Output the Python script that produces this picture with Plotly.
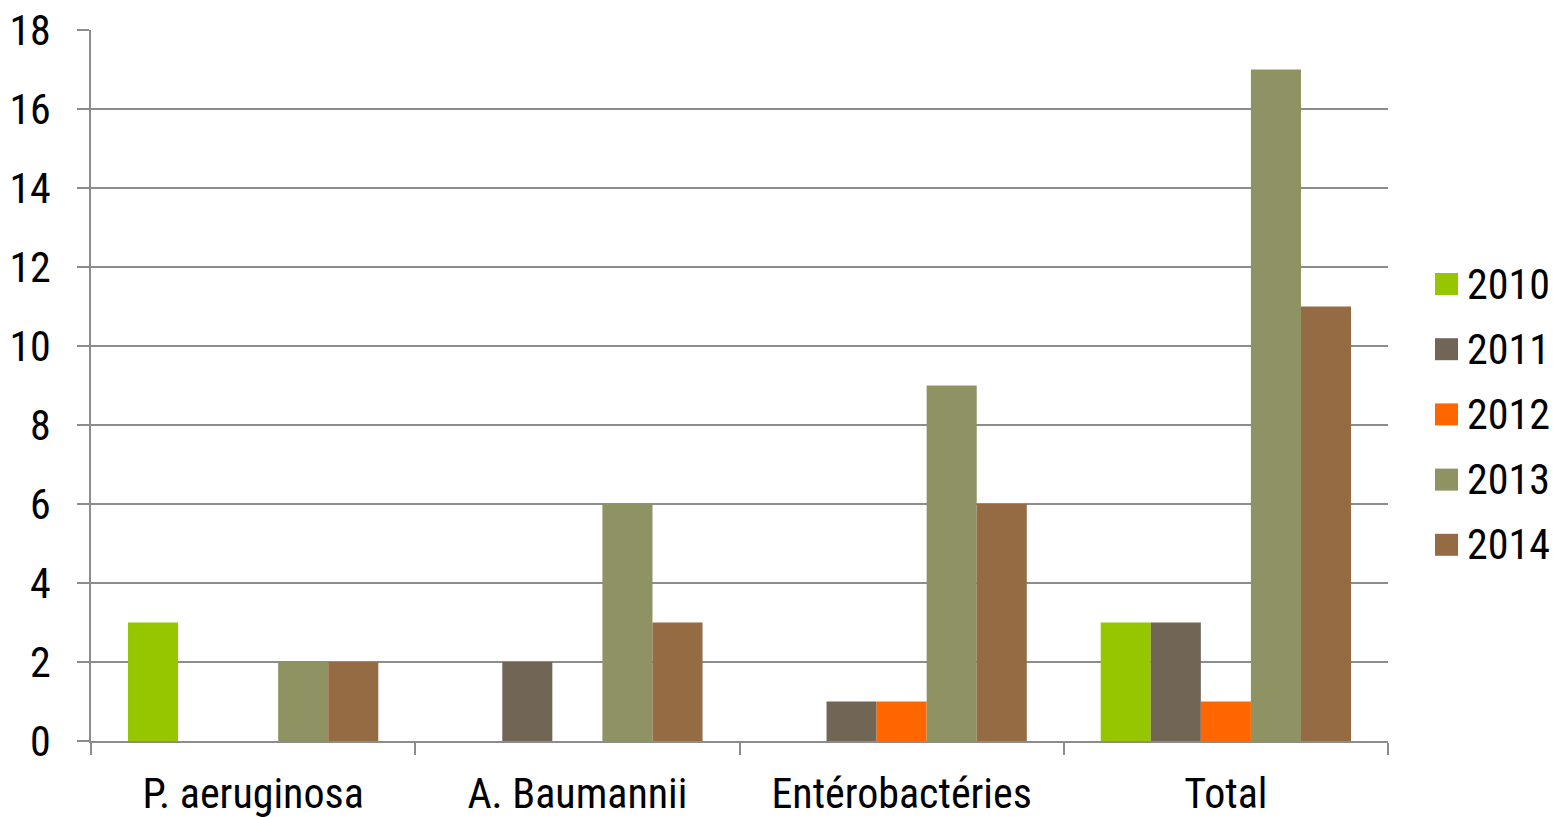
import plotly.graph_objects as go

categories = ["P. aeruginosa", "A. Baumannii", "Entérobactéries", "Total"]
years = ["2010", "2011", "2012", "2013", "2014"]
v2010 = [3, 0, 0, 3]
v2011 = [0, 2, 1, 3]
v2012 = [0, 0, 1, 1]
v2013 = [2, 6, 9, 17]
v2014 = [2, 3, 6, 11]
colors = ["#95C600", "#716656", "#FF6600", "#8F9262", "#956B43"]

series = [v2010, v2011, v2012, v2013, v2014]
FONT = "Liberation Sans Narrow, Arial Narrow, Roboto Condensed, Liberation Sans, Arial, sans-serif"
FS = 42

fig = go.Figure()
for name, vals, col in zip(years, series, colors):
    fig.add_trace(go.Bar(x=categories, y=vals, name=name,
                         marker=dict(color=col, line=dict(width=0)),
                         showlegend=False))

# legend drawn as paper-anchored swatches with labels
for i, (name, col) in enumerate(zip(years, colors)):
    yc = 1 - (284 - 30 + i * 65.2) / 711
    h = 22 / 711
    fig.add_shape(type="rect", xref="paper", yref="paper",
                  x0=(1435 - 91) / 1297, x1=(1458 - 91) / 1297,
                  y0=yc - h / 2, y1=yc + h / 2,
                  fillcolor=col, line=dict(width=0))
    fig.add_annotation(xref="paper", yref="paper", x=(1465 - 91) / 1297, y=yc,
                       text=name, showarrow=False, xanchor="left", yanchor="middle",
                       font=dict(family=FONT, size=FS, color="#000000"))

fig.update_layout(
    width=1553, height=817,
    margin=dict(l=91, r=165, t=30, b=76),
    paper_bgcolor="white", plot_bgcolor="white",
    barmode="group", bargap=0.228, bargroupgap=0,
    font=dict(family=FONT, size=FS, color="#000000"),
    xaxis=dict(showline=True, linecolor="#8C8C8C", linewidth=1.5,
               ticks="outside", tickson="boundaries", ticklen=12,
               tickcolor="#8C8C8C", tickwidth=1.5, showgrid=False,
               automargin=False, ticklabelstandoff=15,
               tickfont=dict(size=FS)),
    yaxis=dict(range=[0, 18], dtick=2, showline=True, linecolor="#8C8C8C",
               linewidth=1.5, ticks="outside", ticklen=12, tickcolor="#8C8C8C",
               tickwidth=1.5, showgrid=True, gridcolor="#8C8C8C", gridwidth=1.5,
               zeroline=False, automargin=False, ticklabelstandoff=18,
               tickfont=dict(size=FS)),
)

fig.write_html("out.html")
